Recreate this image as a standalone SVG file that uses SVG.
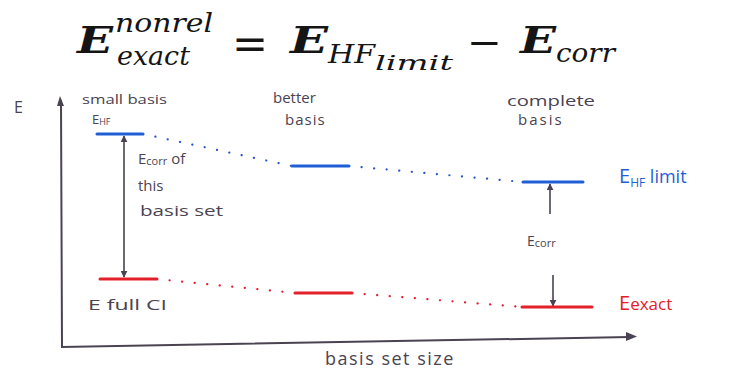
<svg xmlns="http://www.w3.org/2000/svg" width="732" height="369" viewBox="0 0 732 369">
<style>
.eq{font-family:"DejaVu Serif","Liberation Serif",serif;fill:#151515;font-style:italic}
.big{font-size:38px;font-weight:bold}
.sub{font-size:26px}
.hand{font-family:"Open Sans","DejaVu Sans",sans-serif;fill:#4a4352}
.bl{fill:#1f5fd6}
.rd{fill:#e3202a}
.ax{stroke:#4a4352;stroke-width:2;fill:none}
.lvB{stroke:#1f5fd6;stroke-width:3;stroke-linecap:round}
.lvR{stroke:#e3202a;stroke-width:3;stroke-linecap:round}
.dotB{stroke:#2a55c8;stroke-width:2.2;stroke-linecap:round;stroke-dasharray:0.1 12.5}
.dotR{stroke:#e3202a;stroke-width:2.2;stroke-linecap:round;stroke-dasharray:0.1 12.5}
.arr{stroke:#4a4352;stroke-width:1.6;fill:none}
</style>
<defs>
<marker id="ah" viewBox="0 0 10 10" refX="9" refY="5" markerWidth="7" markerHeight="7" markerUnits="userSpaceOnUse" orient="auto-start-reverse">
<path d="M0,0 L10,5 L0,10 z" fill="#4a4352"/>
</marker>
</defs>

<g id="equation">
<text class="eq big" x="77" y="53" textLength="36" lengthAdjust="spacingAndGlyphs">E</text>
<text class="eq sub" x="115" y="32" textLength="98" lengthAdjust="spacingAndGlyphs">nonrel</text>
<text class="eq sub" x="117" y="65" textLength="73" lengthAdjust="spacingAndGlyphs">exact</text>
<text class="eq" x="232" y="59" font-size="44" font-style="normal" textLength="36" lengthAdjust="spacingAndGlyphs">=</text>
<text class="eq big" x="290" y="53" textLength="38" lengthAdjust="spacingAndGlyphs">E</text>
<text class="eq sub" x="328" y="63" textLength="47" lengthAdjust="spacingAndGlyphs">HF</text>
<text class="eq" x="375" y="70" font-size="21" textLength="78" lengthAdjust="spacingAndGlyphs">limit</text>
<text class="eq" x="467" y="56" font-size="40" font-style="normal" textLength="35" lengthAdjust="spacingAndGlyphs">−</text>
<text class="eq big" x="520" y="53" textLength="36" lengthAdjust="spacingAndGlyphs">E</text>
<text class="eq sub" x="556" y="62" textLength="59" lengthAdjust="spacingAndGlyphs">corr</text>
</g>

<g id="axes">
<path class="ax" d="M61,100 L62,347 L630,337" />
<path d="M57,106 L60,96 L64,106 z" fill="#4a4352"/>
<path d="M626,332 L637,336.5 L626,341 z" fill="#4a4352"/>
<text class="hand" x="14" y="113" font-size="16">E</text>
<text class="hand" x="325" y="365" font-size="18" letter-spacing="1.5">basis set size</text>
</g>

<g id="connectors">
<line class="dotB" x1="143" y1="134" x2="292" y2="166"/>
<line class="dotB" x1="349" y1="166" x2="523" y2="182"/>
<line class="dotR" x1="157" y1="279" x2="295" y2="293"/>
<line class="dotR" x1="352" y1="293" x2="522" y2="307"/>
<line class="arr" x1="124" y1="136" x2="124" y2="277" marker-start="url(#ah)" marker-end="url(#ah)"/>
<line class="arr" x1="550" y1="214" x2="550" y2="184" marker-end="url(#ah)"/>
<line class="arr" x1="553" y1="275" x2="553" y2="306" marker-end="url(#ah)"/>
</g>

<g id="small-basis">
<text class="hand" x="82" y="104" font-size="13" textLength="85" lengthAdjust="spacingAndGlyphs">small basis</text>
<text class="hand" x="92" y="124" font-size="13">E<tspan font-size="9" dy="1">HF</tspan></text>
<line class="lvB" x1="97" y1="134" x2="143" y2="134"/>
<line class="lvR" x1="100" y1="279" x2="157" y2="279"/>
<text class="hand" x="88" y="310" font-size="14" textLength="79" lengthAdjust="spacingAndGlyphs">E full CI</text>
</g>

<g id="ecorr-basis-label">
<text class="hand" x="138" y="164" font-size="15">E<tspan font-size="11" dy="1">corr</tspan><tspan dy="-1"> of</tspan></text>
<text class="hand" x="138" y="191" font-size="15">this</text>
<text class="hand" x="140" y="216" font-size="15" textLength="83" lengthAdjust="spacingAndGlyphs">basis set</text>
</g>

<g id="better-basis">
<text class="hand" x="273" y="103" font-size="15">better</text>
<text class="hand" x="285" y="125" font-size="15" letter-spacing="1">basis</text>
<line class="lvB" x1="292" y1="166" x2="349" y2="166"/>
<line class="lvR" x1="295" y1="293" x2="352" y2="293"/>
</g>

<g id="complete-basis">
<text class="hand" x="507" y="106" font-size="15" textLength="88" lengthAdjust="spacingAndGlyphs">complete</text>
<text class="hand" x="518" y="125" font-size="15" letter-spacing="2">basis</text>
<line class="lvB" x1="523" y1="182" x2="583" y2="182"/>
<line class="lvR" x1="522" y1="307" x2="592" y2="307"/>
<text class="hand" x="527" y="246" font-size="14">E<tspan font-size="11" dy="1">corr</tspan></text>
</g>

<g id="labels-right">
<text class="hand bl" x="619" y="183" font-size="20">E<tspan font-size="12" dy="4">HF</tspan><tspan font-size="18" dy="-4"> limit</tspan></text>
<text class="hand rd" x="619" y="310" font-size="20">E<tspan font-size="17">exact</tspan></text>
</g>
</svg>
